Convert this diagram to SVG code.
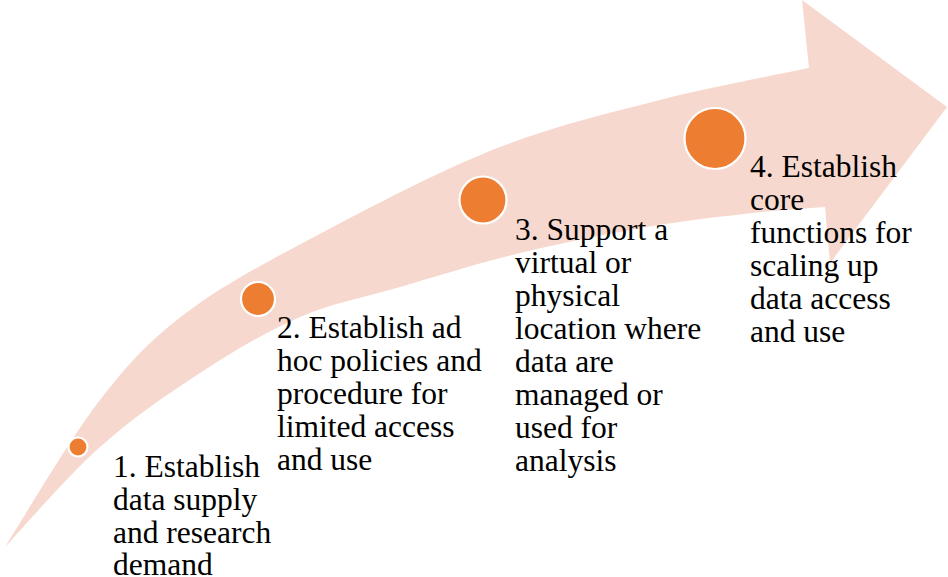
<svg xmlns="http://www.w3.org/2000/svg" width="948" height="577" viewBox="0 0 948 577">
<style>
.arrow{fill:#F7D8CE;stroke:none}
.dot{fill:#ED7D31;stroke:#FFFFFF;stroke-width:2.2}
.lbl{font-size:31.5px;fill:#000000}
</style>
<rect width="948" height="577" fill="#FFFFFF"/>
<g id="arrow">
<path class="arrow" d="M5,547 C20.8,522.5 69.2,439.5 100,400 C130.8,360.5 151.2,338.8 190,310 C228.8,281.2 281.3,254.2 333,227 C384.7,199.8 445.5,168.2 500,147 C554.5,125.8 608.5,113.2 660,100 C711.5,86.8 784.2,73.3 809,68 L802,0 L947,107 L830,263 L825,207 C813,208 782.7,209.7 753,213 C723.3,216.3 685.8,220.3 647,227 C608.2,233.7 561.2,243 520,253 C478.8,263 436.7,276.3 400,287 C363.3,297.7 333.3,302.7 300,317 C266.7,331.3 233.3,351.3 200,373 C166.7,394.7 132.5,418 100,447 C67.5,476 20.8,530.3 5,547 Z"/>
</g>
<g id="connectors"></g>
<g font-family="Liberation Serif, Times New Roman, DejaVu Serif, serif">
<g id="node1">
<circle class="dot" cx="78" cy="447" r="9.5"/>
<text class="lbl"><tspan x="113" y="477">1. Establish</tspan><tspan x="113" y="510">data supply</tspan><tspan x="113" y="543">and research</tspan><tspan x="113" y="575">demand</tspan></text>
</g>
<g id="node2">
<circle class="dot" cx="258" cy="299" r="17"/>
<text class="lbl"><tspan x="277" y="338">2. Establish ad</tspan><tspan x="277" y="371">hoc policies and</tspan><tspan x="277" y="404">procedure for</tspan><tspan x="277" y="437">limited access</tspan><tspan x="277" y="470">and use</tspan></text>
</g>
<g id="node3">
<circle class="dot" cx="483" cy="200" r="23.5"/>
<text class="lbl"><tspan x="515" y="240">3. Support a</tspan><tspan x="515" y="273">virtual or</tspan><tspan x="515" y="306">physical</tspan><tspan x="515" y="339">location where</tspan><tspan x="515" y="372">data are</tspan><tspan x="515" y="405">managed or</tspan><tspan x="515" y="438">used for</tspan><tspan x="515" y="471">analysis</tspan></text>
</g>
<g id="node4">
<circle class="dot" cx="715" cy="138.5" r="30.5"/>
<text class="lbl"><tspan x="750" y="177">4. Establish</tspan><tspan x="750" y="210">core</tspan><tspan x="750" y="243">functions for</tspan><tspan x="750" y="276">scaling up</tspan><tspan x="750" y="309">data access</tspan><tspan x="750" y="342">and use</tspan></text>
</g>
</g>
</svg>
